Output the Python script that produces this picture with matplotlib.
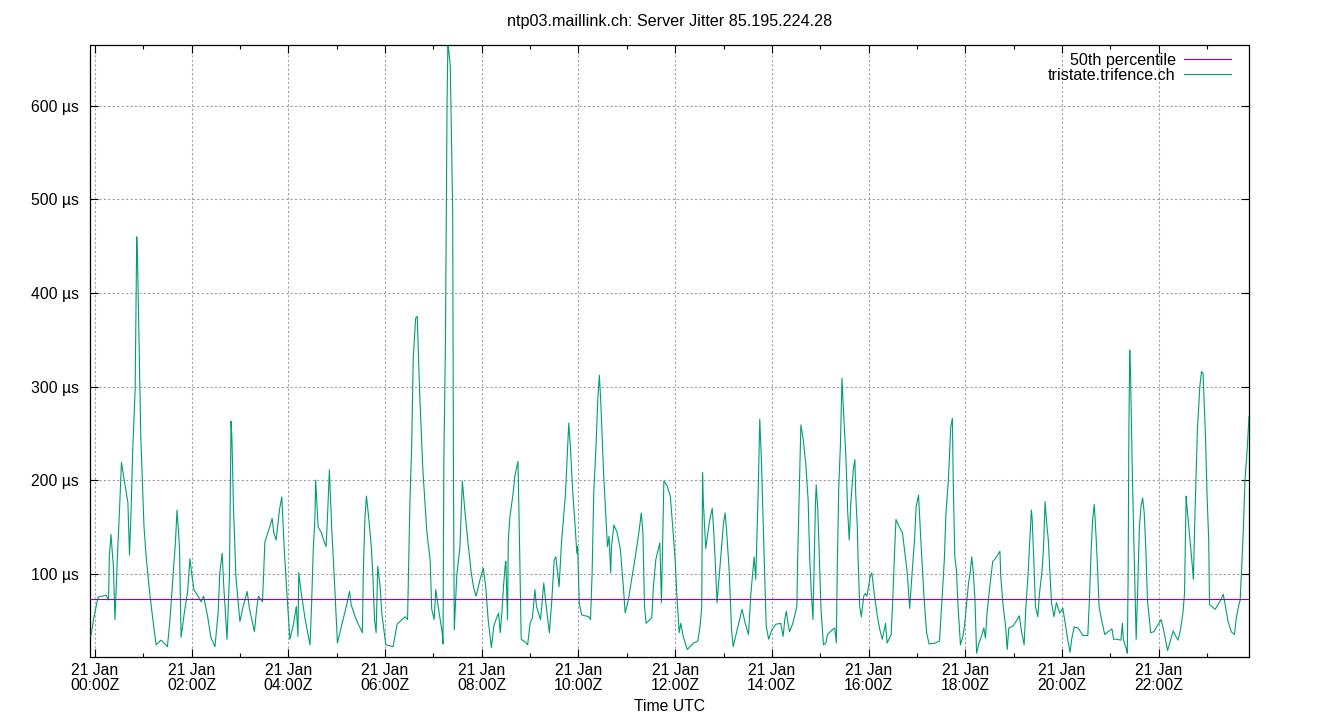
import matplotlib
matplotlib.use("Agg")
import matplotlib.pyplot as plt
from matplotlib.ticker import FixedLocator

plt.rcParams['font.family'] = ['Liberation Sans', 'DejaVu Sans']

# time in minutes after 21 Jan 00:00Z, server jitter in microseconds
minutes = [
    -5, -1, 4, 14, 17, 18, 20, 23, 25, 28, 31, 33, 37, 41, 43, 45, 47, 50, 52, 53,
    57, 61, 64, 68, 72, 76, 82, 87, 90, 93, 97, 100, 102, 105, 107, 111, 115, 118, 120, 123,
    128, 132, 135, 140, 144, 149, 153, 155, 158, 160, 164, 167, 168, 169, 170, 172, 175, 180, 184, 189,
    192, 198, 201, 203, 208, 211, 217, 220, 222, 225, 229, 232, 235, 238, 242, 246, 250, 252, 253, 256,
    261, 267, 269, 271, 273, 274, 277, 281, 285, 287, 289, 291, 294, 297, 301, 306, 312, 316, 318, 323,
    327, 332, 333, 335, 337, 340, 343, 345, 347, 349, 351, 354, 356, 361, 370, 375, 385, 388, 391, 393,
    395, 398, 400, 403, 407, 412, 416, 418, 421, 423, 426, 428, 431, 432, 433, 435, 436, 437, 438, 439,
    441, 444, 445, 446, 449, 453, 456, 459, 463, 467, 470, 473, 478, 482, 485, 488, 492, 495, 499, 501,
    503, 505, 507, 509, 510, 512, 513, 515, 519, 521, 525, 527, 529, 534, 537, 540, 543, 546, 548, 553,
    557, 560, 564, 567, 570, 572, 576, 579, 581, 584, 588, 590, 593, 596, 598, 599, 601, 604, 613, 615,
    617, 619, 622, 624, 626, 628, 631, 634, 636, 638, 640, 641, 644, 648, 652, 656, 658, 662, 666, 670,
    675, 678, 680, 682, 684, 691, 693, 696, 701, 703, 706, 710, 714, 717, 720, 722, 725, 727, 730, 735,
    743, 748, 751, 753, 754, 755, 758, 760, 763, 766, 768, 770, 772, 775, 778, 780, 782, 784, 787, 790,
    792, 797, 803, 807, 811, 814, 817, 818, 820, 823, 825, 827, 829, 831, 833, 836, 840, 845, 851, 854,
    856, 858, 860, 862, 866, 871, 872, 875, 876, 879, 882, 885, 887, 889, 891, 893, 894, 895, 897, 899,
    901, 904, 907, 909, 915, 918, 920, 921, 923, 925, 927, 929, 932, 934, 936, 938, 941, 943, 944, 946,
    947, 949, 951, 954, 956, 958, 962, 964, 967, 971, 974, 977, 980, 981, 983, 988, 990, 992, 994, 998,
    1002, 1005, 1008, 1011, 1014, 1017, 1019, 1022, 1025, 1029, 1032, 1035, 1043, 1048, 1051, 1054, 1056, 1059, 1062, 1064,
    1065, 1067, 1069, 1071, 1074, 1077, 1079, 1082, 1084, 1086, 1088, 1090, 1092, 1094, 1097, 1100, 1103, 1105, 1107, 1110,
    1114, 1118, 1123, 1124, 1127, 1130, 1132, 1134, 1139, 1143, 1147, 1150, 1153, 1155, 1158, 1160, 1162, 1163, 1165, 1167,
    1170, 1172, 1175, 1177, 1179, 1181, 1183, 1185, 1187, 1190, 1193, 1197, 1201, 1204, 1207, 1210, 1212, 1215, 1220, 1226,
    1232, 1234, 1236, 1238, 1240, 1242, 1244, 1246, 1249, 1253, 1257, 1262, 1264, 1268, 1273, 1275, 1276, 1280, 1281, 1282,
    1283, 1284, 1285, 1287, 1289, 1292, 1294, 1296, 1298, 1300, 1302, 1304, 1306, 1310, 1314, 1318, 1323, 1326, 1331, 1335,
    1338, 1340, 1344, 1347, 1350, 1352, 1354, 1355, 1358, 1361, 1363, 1365, 1368, 1371, 1373, 1375, 1378, 1380, 1382, 1383,
    1390, 1397, 1400, 1402, 1406, 1410, 1414, 1416, 1419, 1421, 1423, 1425, 1427, 1430, 1432,
]
jitter_us = [
    33, 54, 75, 77, 72, 118, 142, 108, 51, 118, 176, 219, 197, 176, 120, 168, 232, 297, 460, 435,
    247, 150, 115, 80, 51, 24, 29, 25, 22, 48, 97, 134, 168, 129, 32, 58, 80, 116, 101, 83,
    76, 70, 76, 54, 32, 22, 58, 101, 122, 86, 30, 97, 183, 263, 247, 172, 97, 49, 65, 81,
    62, 38, 64, 76, 70, 134, 150, 159, 144, 136, 168, 182, 126, 83, 30, 44, 65, 33, 101, 80,
    51, 24, 69, 126, 158, 200, 150, 144, 133, 129, 168, 211, 147, 97, 26, 44, 65, 81, 67, 54,
    46, 37, 97, 158, 183, 158, 129, 97, 51, 37, 108, 86, 58, 24, 22, 46, 54, 51, 179, 232,
    329, 373, 375, 293, 211, 144, 115, 62, 51, 83, 65, 54, 37, 25, 220, 346, 474, 602, 664, 660,
    643, 487, 190, 40, 97, 129, 199, 168, 133, 101, 85, 76, 94, 106, 86, 51, 21, 44, 54, 58,
    37, 58, 86, 108, 113, 51, 136, 161, 186, 204, 220, 129, 30, 27, 24, 47, 53, 83, 65, 51,
    90, 65, 37, 72, 115, 118, 86, 133, 154, 186, 261, 236, 186, 150, 122, 129, 69, 56, 54, 51,
    101, 186, 240, 286, 312, 279, 211, 161, 129, 140, 101, 129, 152, 144, 126, 83, 58, 72, 94, 115,
    144, 165, 144, 65, 47, 53, 86, 115, 133, 69, 199, 194, 183, 150, 115, 79, 37, 47, 33, 19,
    26, 28, 44, 65, 208, 176, 127, 140, 158, 170, 144, 108, 69, 101, 133, 154, 165, 144, 104, 40,
    22, 40, 62, 47, 35, 79, 108, 118, 94, 186, 265, 222, 161, 101, 44, 30, 40, 46, 47, 33,
    51, 60, 47, 38, 47, 65, 115, 225, 259, 243, 218, 179, 115, 79, 51, 129, 172, 195, 168, 115,
    62, 24, 26, 35, 40, 42, 26, 97, 193, 236, 309, 272, 222, 168, 136, 176, 211, 222, 186, 150,
    115, 65, 54, 76, 79, 76, 97, 101, 79, 54, 40, 30, 42, 47, 26, 35, 72, 118, 158, 150,
    144, 122, 101, 63, 101, 136, 172, 184, 133, 72, 37, 25, 26, 28, 72, 115, 165, 200, 257, 266,
    200, 118, 104, 65, 24, 33, 44, 72, 90, 101, 118, 101, 72, 15, 26, 33, 42, 31, 58, 83,
    113, 117, 124, 97, 65, 44, 19, 42, 44, 49, 55, 37, 24, 62, 101, 136, 168, 158, 115, 65,
    54, 79, 101, 126, 177, 154, 136, 101, 69, 54, 69, 58, 63, 47, 30, 16, 30, 43, 42, 34,
    34, 72, 122, 158, 174, 144, 108, 65, 51, 35, 38, 41, 30, 30, 29, 47, 30, 19, 15, 95,
    257, 339, 315, 218, 140, 30, 86, 150, 172, 181, 165, 126, 72, 37, 38, 44, 51, 40, 18, 30,
    39, 35, 29, 40, 58, 79, 183, 172, 144, 115, 94, 165, 254, 300, 316, 314, 247, 183, 136, 67,
    62, 72, 78, 69, 49, 38, 35, 51, 65, 72, 108, 147, 200, 236, 268,
]
median_us = 73

hour_ticks = [0, 120, 240, 360, 480, 600, 720, 840, 960, 1080, 1200, 1320]
hour_labels = ['21 Jan\n00:00Z', '21 Jan\n02:00Z', '21 Jan\n04:00Z', '21 Jan\n06:00Z',
               '21 Jan\n08:00Z', '21 Jan\n10:00Z', '21 Jan\n12:00Z', '21 Jan\n14:00Z',
               '21 Jan\n16:00Z', '21 Jan\n18:00Z', '21 Jan\n20:00Z', '21 Jan\n22:00Z']
minor_ticks = [60, 180, 300, 420, 540, 660, 780, 900, 1020, 1140, 1260, 1380]
y_ticks = [100, 200, 300, 400, 500, 600]
y_labels = ['100 µs', '200 µs', '300 µs', '400 µs', '500 µs', '600 µs']

fig = plt.figure(figsize=(13.4, 7.2), dpi=100)
ax = fig.add_axes([90 / 1340, 63 / 720, 1159 / 1340, 612 / 720])

green, = ax.plot(minutes, jitter_us, color='#009e73', lw=0.8, zorder=3)
med = ax.axhline(median_us, color='#9400d3', lw=0.8, zorder=4)

ax.set_xlim(-6, 1432)
ax.set_ylim(11, 665)

ax.set_xticks(hour_ticks)
ax.set_xticklabels(hour_labels)
ax.xaxis.set_minor_locator(FixedLocator(minor_ticks))
ax.set_yticks(y_ticks)
ax.set_yticklabels(y_labels)

ax.tick_params(which='major', direction='in', length=6, width=0.8, top=True, right=True,
               labelsize=11.3, pad=4)
ax.tick_params(axis='y', which='major', pad=8)
ax.tick_params(which='minor', direction='in', length=3, width=0.8, top=True, right=True)
for lab in ax.get_xticklabels():
    lab.set_linespacing(1.05)

ax.grid(True, which='major', color='#a0a0a0', lw=0.8, linestyle=(0, (2, 2)))
for s in ax.spines.values():
    s.set_linewidth(0.9)

ax.set_title('ntp03.maillink.ch: Server Jitter 85.195.224.28', fontsize=11.6, pad=14)
ax.set_xlabel('Time UTC', fontsize=11.3, labelpad=4)

leg = ax.legend([med, green], ['50th percentile', 'tristate.trifence.ch'],
                loc='upper right', bbox_to_anchor=(0.993, 1.003), markerfirst=False,
                frameon=False, fontsize=11.6, handlelength=2.9, handletextpad=0.55,
                labelspacing=0.0, borderaxespad=0.4, borderpad=0.2)

fig.savefig('out.png', dpi=100)
